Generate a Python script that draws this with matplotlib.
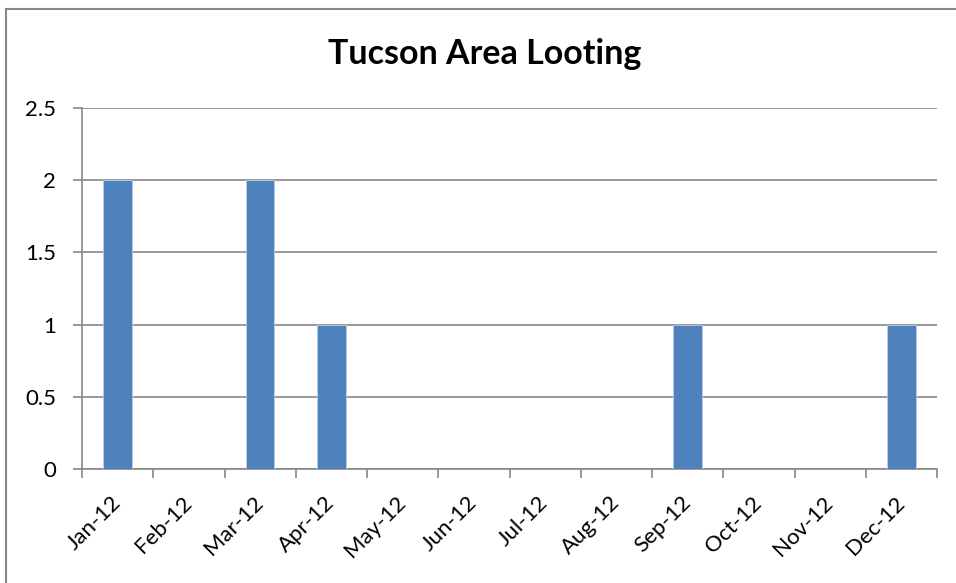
import matplotlib
matplotlib.use("Agg")
import matplotlib.pyplot as plt
from matplotlib.patches import Rectangle

months = ["Jan-12", "Feb-12", "Mar-12", "Apr-12", "May-12", "Jun-12",
          "Jul-12", "Aug-12", "Sep-12", "Oct-12", "Nov-12", "Dec-12"]
counts = [2, 0, 2, 1, 0, 0, 0, 0, 1, 0, 0, 1]
yticks = [0, 0.5, 1, 1.5, 2, 2.5]
ytick_labels = ["0", "0.5", "1", "1.5", "2", "2.5"]
title = "Tucson Area Looting"

W, H = 956, 583
fig = plt.figure(figsize=(W / 100, H / 100), dpi=100)
plt.rcParams['font.family'] = ['Lato', 'DejaVu Sans']

# chart border (top & left visible)
fig.patches.append(Rectangle((6 / W, -0.05), 1.2, (H - 9) / H + 0.05,
                             transform=fig.transFigure, fill=False,
                             edgecolor='#878787', linewidth=1.5))

ax = fig.add_axes([82 / W, 1 - 469 / H, (937 - 82) / W, (469 - 108) / H])
x = list(range(len(months)))
ax.bar(x, counts, width=0.4, color='#4F81BD', edgecolor='#B9CDE5', linewidth=0.6, zorder=3)
ax.set_xlim(-0.5, len(months) - 0.5)
ax.set_ylim(0, 2.5)
ax.set_yticks(yticks)
ax.set_yticklabels(ytick_labels, fontsize=16)
ax.yaxis.grid(True, color='#878787', linewidth=1.2, zorder=0)
for s in ['top', 'right']:
    ax.spines[s].set_visible(False)
for s in ['left', 'bottom']:
    ax.spines[s].set_color('#878787')
    ax.spines[s].set_linewidth(1.2)

ax.set_xticks([i - 0.5 for i in range(len(months) + 1)], minor=False)
ax.set_xticklabels([])
ax.tick_params(axis='x', which='major', length=6.5, width=1.2, color='#878787', direction='out')
ax.set_xticks(x, minor=True)
ax.set_xticklabels(months, minor=True, rotation=45, ha='right', va='center',
                   rotation_mode='anchor', fontsize=16)
ax.tick_params(axis='x', which='minor', length=0, pad=22)
ax.tick_params(axis='y', length=6.5, width=1.2, color='#878787', pad=12)

fig.text(485 / W, 1 - 54 / H, title, ha='center', va='center',
         fontsize=24.5, fontweight='bold')

fig.savefig("out.png", dpi=100)
